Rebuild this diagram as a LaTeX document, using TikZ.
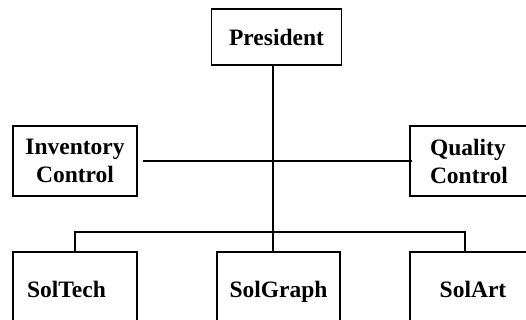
\documentclass[tikz,border=0pt]{standalone}
\usepackage{fontspec}
\setmainfont{Liberation Serif}
\begin{document}
\begin{tikzpicture}[x=1pt,y=-1pt,
  box/.style={draw,line width=1.6pt,inner sep=0pt,align=center,
    font=\fontsize{23.5}{28}\selectfont\bfseries},
  conn/.style={line width=1.6pt}]
\useasboundingbox (0,0) rectangle (526,320);
\begin{scope}
\clip (0,0) rectangle (526,320);
\node[box,minimum width=130pt,minimum height=56pt] (pres) at (276.5,37) {President};
\node[box,minimum width=124pt,minimum height=70pt] (inv) at (75,161) {Inventory\\Control};
\node[box,minimum height=70pt,text width=90pt,align=left,inner xsep=20pt] (ql) at (475,161) {Quality\\Control};
\node[box,minimum width=124pt,minimum height=74pt,text height=17pt,text depth=0pt,
  text width=96pt,align=left,inner xsep=14pt] (st) at (75,289) {SolTech};
\node[box,minimum width=123pt,minimum height=74pt,text height=17pt,text depth=0pt] (sg) at (278.5,289) {SolGraph};
\node[box,minimum width=126pt,minimum height=74pt,text height=17pt,text depth=0pt] (sa) at (473,289) {SolArt};
\coordinate (b) at (273,232);
\coordinate (bl) at (75,232);
\coordinate (br) at (465,232);
\draw[conn] (b |- pres.south) -- (b);
\draw[conn] ([xshift=5pt]inv.east) -- ([xshift=3pt]ql.west);
\draw[conn] (bl |- st.north) -- (bl) -- (br) -- (br |- sa.north);
\draw[conn] (b) -- (b |- sg.north);
\end{scope}
\end{tikzpicture}
\end{document}
